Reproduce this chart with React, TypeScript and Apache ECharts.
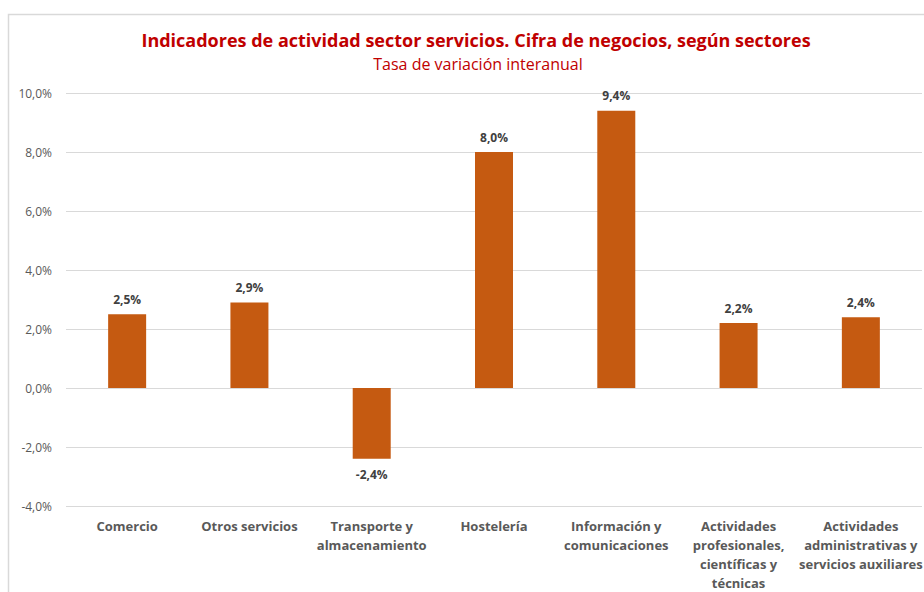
import React, { useEffect, useRef } from "react";
import * as echarts from "echarts";

const categories = [
  "Comercio",
  "Otros servicios",
  "Transporte y\nalmacenamiento",
  "Hostelería",
  "Información y\ncomunicaciones",
  "Actividades\nprofesionales,\ncientíficas y\ntécnicas",
  "Actividades\nadministrativas y\nservicios auxiliares",
];
const values = [2.5, 2.9, -2.4, 8.0, 9.4, 2.2, 2.4];
const titleText = "Indicadores de actividad sector servicios. Cifra de negocios, según sectores";
const subtitleText = "Tasa de variación interanual";

const FONT = "'Open Sans', 'Noto Sans', sans-serif";
const fmt = (v: number) => v.toFixed(1).replace(".", ",") + "%";

export default function App() {
  const ref = useRef<HTMLDivElement>(null);
  useEffect(() => {
    if (!ref.current) return;
    const chart = echarts.init(ref.current, null, { renderer: "svg" });
    chart.setOption({
      animation: false,
      backgroundColor: "#ffffff",
      textStyle: { fontFamily: FONT },
      title: [
        {
          text: titleText,
          left: 471,
          textAlign: "center",
          top: 26,
          textStyle: { color: "#C00000", fontSize: 18, fontWeight: "bold", fontFamily: FONT },
        },
        {
          text: subtitleText,
          left: 473,
          textAlign: "center",
          top: 51,
          textStyle: { color: "#C00000", fontSize: 16, fontWeight: "normal", fontFamily: FONT },
        },
      ],
      graphic: [
        {
          type: "rect",
          shape: { x: 8.5, y: 14.5, width: 940, height: 620 },
          style: { fill: "none", stroke: "#D9D9D9", lineWidth: 1.5 },
          silent: true,
        },
      ],
      grid: {
        left: 66,
        right: 2,
        top: 93,
        bottom: 86,
        containLabel: false,
        outerBoundsMode: "none",
      },
      xAxis: {
        type: "category",
        data: categories,
        axisLine: { show: false },
        axisTick: { show: false },
        axisLabel: {
          interval: 0,
          color: "#595959",
          fontWeight: "bold",
          fontSize: 13,
          lineHeight: 19,
          margin: 10,
          fontFamily: FONT,
          hideOverlap: false,
        },
      },
      yAxis: {
        type: "value",
        min: -4,
        max: 10,
        interval: 2,
        axisLine: { show: false },
        axisTick: { show: false },
        splitLine: { lineStyle: { color: "#D9D9D9", width: 1 } },
        axisLabel: {
          formatter: (v: number) => fmt(v),
          color: "#595959",
          fontSize: 12,
          margin: 14,
          fontFamily: FONT,
        },
      },
      series: [
        {
          type: "bar",
          data: values.map((v) => ({
            value: v,
            label: { position: v < 0 ? "bottom" : "top", distance: v < 0 ? 10 : 9 },
          })),
          barWidth: 38,
          itemStyle: { color: "#C55A11" },
          label: {
            show: true,
            formatter: (p: any) => fmt(p.value),
            color: "#404040",
            fontWeight: "bold",
            fontSize: 12,
            distance: 9,
            fontFamily: FONT,
          },
        },
      ],
    });
    return () => chart.dispose();
  }, []);
  return (
    <div
      ref={ref}
      style={{ position: "fixed", left: 0, top: 0, width: 924, height: 592 }}
    />
  );
}
